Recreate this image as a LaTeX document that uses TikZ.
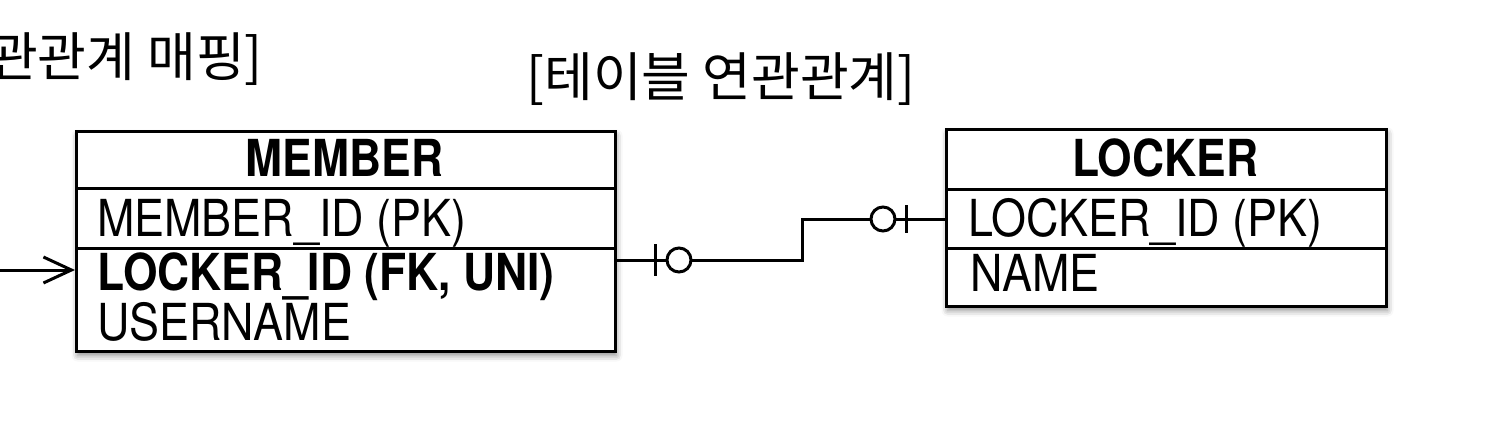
\documentclass[tikz,border=0pt]{standalone}
\usepackage{fontspec}
\newfontfamily\krfont{Noto Sans CJK KR}
\newfontfamily\tblfont{TeX Gyre Heros}[FakeStretch=0.88]
\newfontfamily\tblbfont{TeX Gyre Heros Bold}[FakeStretch=0.87]
\usetikzlibrary{arrows.meta,shadows.blur}
\begin{document}
\begin{tikzpicture}[x=1pt,y=-1pt,
  tbl/.style={draw, line width=3pt, rectangle, anchor=north west, inner sep=0pt, fill=white,
    blur shadow={shadow xshift=1pt, shadow yshift=-4pt, shadow blur radius=6pt, shadow opacity=45}},
  rowbox/.style={draw, line width=3pt, rectangle, anchor=north west, inner sep=0pt},
  hdr/.style={font=\tblbfont\fontsize{51pt}{60pt}\selectfont, inner sep=0pt, anchor=base},
  fld/.style={font=\tblfont\fontsize{51pt}{60pt}\selectfont, inner sep=0pt, anchor=base west},
  fldb/.style={font=\tblbfont\fontsize{51pt}{60pt}\selectfont, inner sep=0pt, anchor=base west},
  ttl/.style={font=\krfont\fontsize{53pt}{60pt}\selectfont, inner sep=0pt},
  conn/.style={line width=3pt}
]
\useasboundingbox (0,0) rectangle (1492,442);

% titles
\node[ttl, anchor=east] (t1) at (263,59) {관관계 매핑]};
\node[ttl] (t2) at (721,79) {[테이블 연관관계]};

% MEMBER table
\node[tbl, minimum width=539pt, minimum height=220pt] (member) at (75,130) {};
\node[rowbox, minimum width=539pt, minimum height=57pt] (mH) at (75,130) {};
\node[rowbox, minimum width=539pt, minimum height=60pt] (mR1) at (75,187) {};
\node[rowbox, minimum width=539pt, minimum height=103pt] (mR2) at (75,247) {};
\node[hdr] (mHt) at (344.5,176) {MEMBER};
\node[fld] (mId) at (97,236) {MEMBER\_ID (PK)};
\node[fldb] (mLk) at (97,290) {LOCKER\_ID (FK, UNI)};
\node[fld] (mUs) at (97,340) {USERNAME};

% LOCKER table
\node[tbl, minimum width=440pt, minimum height=177pt] (locker) at (945,128) {};
\node[rowbox, minimum width=440pt, minimum height=60pt] (lH) at (945,128) {};
\node[rowbox, minimum width=440pt, minimum height=59pt] (lR1) at (945,188) {};
\node[rowbox, minimum width=440pt, minimum height=58pt] (lR2) at (945,247) {};
\node[hdr] (lHt) at (1165,176) {LOCKER};
\node[fld] (lId) at (968,236) {LOCKER\_ID (PK)};
\node[fld] (lNm) at (970,291) {NAME};

% left arrow
\coordinate (a0) at (0,270);
\draw[conn, -{Straight Barb[length=28pt,width=26pt]}] (a0) -- (a0 -| mR2.west);

% relationship connector
\coordinate (c1) at ([yshift=-13pt]mR2.north east);
\draw[conn] (c1) -- ++(185,0) |- (lR1.west);
\draw[conn] ([xshift=38pt]c1) ++(0,-16) -- ++(0,32);
\draw[conn, fill=white] ([xshift=62pt]c1) circle[radius=12pt];
\draw[conn] ([xshift=-39pt]lR1.west) ++(0,-14) -- ++(0,28);
\draw[conn, fill=white] ([xshift=-62pt]lR1.west) circle[radius=12pt];
\end{tikzpicture}
\end{document}
